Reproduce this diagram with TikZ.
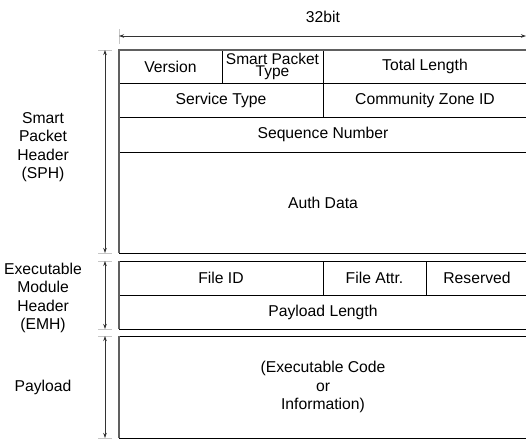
\documentclass[tikz,border=0pt]{standalone}
\usepackage{fontspec}
\setmainfont{Liberation Sans}
\usetikzlibrary{arrows.meta}
\begin{document}
\begin{tikzpicture}[x=1pt,y=-1pt,
  lbl/.style={inner sep=0pt,align=center,font=\fontsize{15.7}{18.5}\selectfont},
  cell/.style={draw=black,line width=0.9pt},
  frame/.style={draw=gray!75!black,line width=1.2pt},
  tick/.style={draw=gray!45,line width=1pt},
  dim/.style={draw=black!80,line width=0.7pt,{Stealth[length=5pt,width=3.5pt]}-{Stealth[length=5pt,width=3.5pt]}}]
\clip (0,0) rectangle (526,439);
\fill[white] (0,0) rectangle (526,439);

% ---- SPH block ----
\draw[cell] (119,83) -- (528,83);
\draw[cell] (119,117) -- (528,117);
\draw[cell] (119,152) -- (528,152);
\draw[cell] (119,253) -- (528,253);
\draw[cell] (222,50) -- (222,83);
\draw[cell] (323,50) -- (323,117);
\draw[frame] (528,50) -- (119,50) -- (119,253);

% ---- EMH block ----
\draw[cell] (119,261) -- (528,261);
\draw[cell] (119,295) -- (528,295);
\draw[cell] (119,329) -- (528,329);
\draw[cell] (323,261) -- (323,295);
\draw[cell] (426,261) -- (426,295);
\draw[frame] (119,261) -- (119,329);

% ---- Payload block ----
\draw[cell] (119,336) -- (528,336);
\draw[cell] (119,438) -- (528,438);
\draw[frame] (119,336) -- (119,438);

% ---- cell texts ----
\node[lbl] (ver) at (170.5,66.5) {Version};
\node[lbl,anchor=base,font=\fontsize{15.5}{12}\selectfont] (spt1) at (272.5,64.6) {Smart Packet};
\node[lbl,anchor=base,font=\fontsize{15.5}{12}\selectfont] (spt2) at (272.5,76.4) {Type};
\node[lbl] (tl) at (425,66.5) {Total Length};
\node[lbl] (st) at (221,100) {Service Type};
\node[lbl] (cz) at (425,100) {Community Zone ID};
\node[lbl] (sn) at (323,134.5) {Sequence Number};
\node[lbl] (ad) at (323,202.5) {Auth Data};
\node[lbl] (fid) at (221,278) {File ID};
\node[lbl] (fa) at (374.5,278) {File Attr.};
\node[lbl] (rs) at (477,278) {Reserved};
\node[lbl] (pl) at (323,312) {Payload Length};
\node[lbl] (code) at (323,387) {(Executable Code\\or\\Information)};

% ---- side labels ----
\node[lbl] (sph) at (43,147) {Smart\\Packet\\Header\\(SPH)};
\node[lbl] (emh) at (43,298) {Executable\\Module\\Header\\(EMH)};
\node[lbl] (pay) at (43,387) {Payload};
\node[lbl] (bits) at (323,17) {32bit};

% ---- extension ticks ----
\draw[tick] (119,29) -- (119,44);
\foreach \yy in {50,253,261,329,336,438} \draw[tick] (98,\yy) -- (112,\yy);

% ---- dimension arrows ----
\coordinate (hL) at (119,36);
\coordinate (hR) at (526,36);
\coordinate (s1) at (105,50);
\coordinate (s2) at (105,253);
\coordinate (e1) at (105,261);
\coordinate (e2) at (105,329);
\coordinate (p1) at (105,336);
\coordinate (p2) at (105,438);
\draw[dim] (hL) -- (hR);
\draw[dim] (s1) -- (s2);
\draw[dim] (e1) -- (e2);
\draw[dim] (p1) -- (p2);
\end{tikzpicture}
\end{document}
